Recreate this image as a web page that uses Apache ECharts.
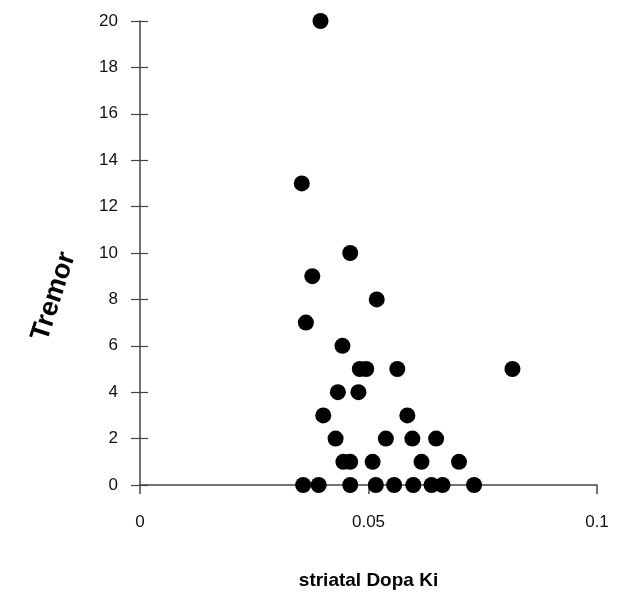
<!DOCTYPE html>
<html>
<head>
<meta charset="utf-8">
<script src="https://cdn.jsdelivr.net/npm/echarts@6/dist/echarts.min.js"></script>
<style>
  html, body { margin: 0; padding: 0; background: #fff; }
  #chart { width: 625px; height: 595px; }
</style>
</head>
<body>
<div id="chart"></div>
<script>
// striatal Dopa Ki (x) vs tremor score (y)
const kiValues = [
  0.0395, 0.0354, 0.0460, 0.0377, 0.0518, 0.0363, 0.0443,
  0.0481, 0.0495, 0.0563, 0.0815,
  0.0433, 0.0478,
  0.0401, 0.0585,
  0.0428, 0.0538, 0.0596, 0.0648,
  0.0445, 0.0460, 0.0509, 0.0616, 0.0698,
  0.0357, 0.0391, 0.0460, 0.0516, 0.0556, 0.0598, 0.0638, 0.0662, 0.0731
];
const tremorValues = [
  20, 13, 10, 9, 8, 7, 6,
  5, 5, 5, 5,
  4, 4,
  3, 3,
  2, 2, 2, 2,
  1, 1, 1, 1, 1,
  0, 0, 0, 0, 0, 0, 0, 0, 0
];
const xTicks = [0, 0.05, 0.1];
const yTickStep = 2;

const chart = echarts.init(document.getElementById('chart'));

const axisColor = '#444';
const labelFont = {
  color: '#111',
  fontFamily: 'Liberation Sans, Arial, sans-serif',
  fontSize: 17
};

const points = kiValues.map((x, i) => [x, tremorValues[i]]);

chart.setOption({
  animation: false,
  grid: { left: 140, right: 28, top: 21, bottom: 103 },
  xAxis: {
    type: 'value',
    min: 0,
    max: 0.1,
    interval: 0.05,
    name: 'striatal Dopa Ki',
    nameLocation: 'middle',
    nameGap: 86,
    nameTextStyle: {
      color: '#000',
      fontFamily: 'Liberation Sans, Arial, sans-serif',
      fontWeight: 'bold',
      fontSize: 19
    },
    axisLine: { show: true, lineStyle: { color: axisColor, width: 1.5 } },
    axisTick: { show: true, length: 9, lineStyle: { color: axisColor, width: 1.5 } },
    axisLabel: Object.assign({}, labelFont, {
      margin: 29,
      formatter: v => xTicks.includes(+v.toFixed(2)) ? String(+v.toFixed(2)) : ''
    }),
    splitLine: { show: false }
  },
  yAxis: [
    {
      type: 'value',
      min: 0,
      max: 20,
      interval: yTickStep,
      name: 'Tremor',
      nameLocation: 'middle',
      nameGap: 72,
      nameRotate: 72,
      nameTextStyle: {
        color: '#000',
        fontFamily: 'Liberation Sans, Arial, sans-serif',
        fontWeight: 'bold',
        fontSize: 27
      },
      axisLine: { show: true, lineStyle: { color: axisColor, width: 1.5 } },
      axisTick: { show: true, length: 9, lineStyle: { color: axisColor, width: 1.2 } },
      axisLabel: Object.assign({}, labelFont, { margin: 22 }),
      splitLine: { show: false }
    },
    {
      // second copy only to make the ticks cross the axis line
      type: 'value',
      min: 0,
      max: 20,
      interval: yTickStep,
      position: 'left',
      axisLine: { show: false },
      axisTick: { show: true, inside: true, length: 8, lineStyle: { color: axisColor, width: 1.2 } },
      axisLabel: { show: false },
      splitLine: { show: false }
    }
  ],
  series: [
    {
      type: 'scatter',
      data: points,
      symbol: 'circle',
      symbolSize: 16,
      itemStyle: { color: '#000', opacity: 1 }
    }
  ]
});
</script>
</body>
</html>
